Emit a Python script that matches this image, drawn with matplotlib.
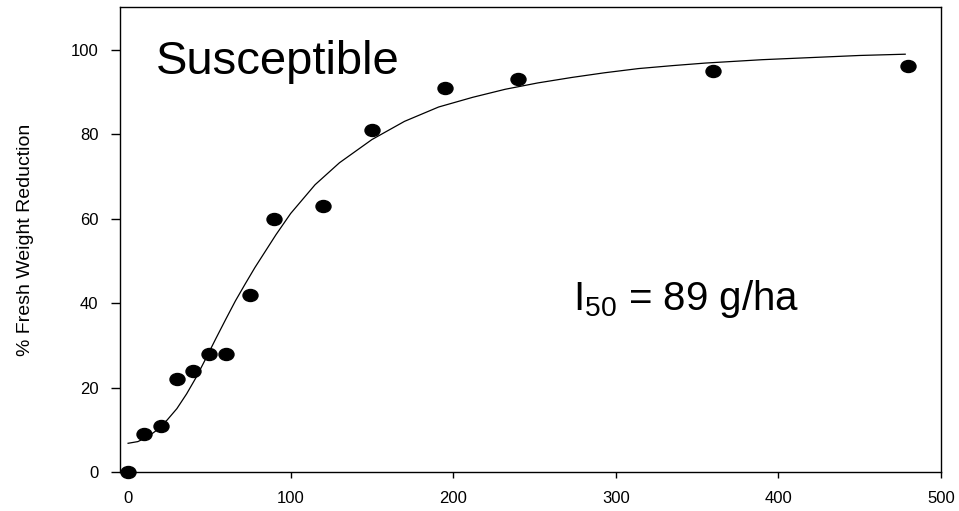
import numpy as np
import matplotlib
matplotlib.use("Agg")
import matplotlib.pyplot as plt
from matplotlib.path import Path

plt.rcParams['font.family'] = ['Liberation Sans', 'DejaVu Sans']
plt.rcParams['mathtext.default'] = 'regular'

# measured dose / response
dose = [0, 10, 20, 30, 40, 50, 60, 75, 90, 120, 150, 195, 240, 360, 480]
reduction = [0, 9, 11, 22, 24, 28, 28, 42, 60, 63, 81, 91, 93, 95, 96]

# fitted curve
fit_x = [0, 6, 12, 18, 24, 30, 36, 42, 48, 54, 60, 66, 72, 78, 84, 91,
         100, 115, 130, 150, 170, 191, 212, 232, 252, 273, 293, 314, 335,
         355, 390, 420, 450, 478]
fit_y = [6.8, 7.2, 8.3, 10.0, 12.3, 15.0, 18.5, 22.5, 27.0, 31.6, 36.1,
         40.5, 44.5, 48.4, 52.0, 56.2, 61.2, 68.0, 73.2, 78.7, 83.0, 86.4,
         88.7, 90.6, 92.1, 93.4, 94.5, 95.5, 96.2, 96.8, 97.6, 98.1, 98.6,
         98.9]

xticks = [0, 100, 200, 300, 400, 500]
yticks = [0, 20, 40, 60, 80, 100]

# slightly flattened ellipse marker
circ = Path.unit_circle()
ellipse = Path(circ.vertices * np.array([1.0, 0.8]), circ.codes)

fig = plt.figure(figsize=(9.59, 5.11), dpi=100)
ax = fig.add_axes([0.1251, 0.0763, 0.8561, 0.9094])

ax.plot(fit_x, fit_y, color='black', lw=0.9)
ax.plot(dose, reduction, linestyle='none', marker=ellipse, ms=10.8,
        color='black', clip_on=False, zorder=3)

ax.set_xlim(-5, 500)
ax.set_ylim(0, 110)
ax.set_xticks(xticks)
ax.set_yticks(yticks)
ax.tick_params(axis='both', direction='out', labelsize=12, width=1,
               color='black')
ax.tick_params(axis='y', length=6.5, pad=9)
ax.tick_params(axis='x', length=4, pad=10)
for s in ax.spines.values():
    s.set_linewidth(1.0)
    s.set_color('black')

ax.set_ylabel('% Fresh Weight Reduction', fontsize=14)
ax.yaxis.set_label_coords(-0.1045, 0.5)

ax.text(17.3, 94.1, 'Susceptible', fontsize=34, ha='left', va='baseline')
ax.text(273.9, 38.4, r'I$_{50}$ = 89 g/ha', fontsize=29, ha='left',
        va='baseline')

plt.savefig('out.png', dpi=100)
